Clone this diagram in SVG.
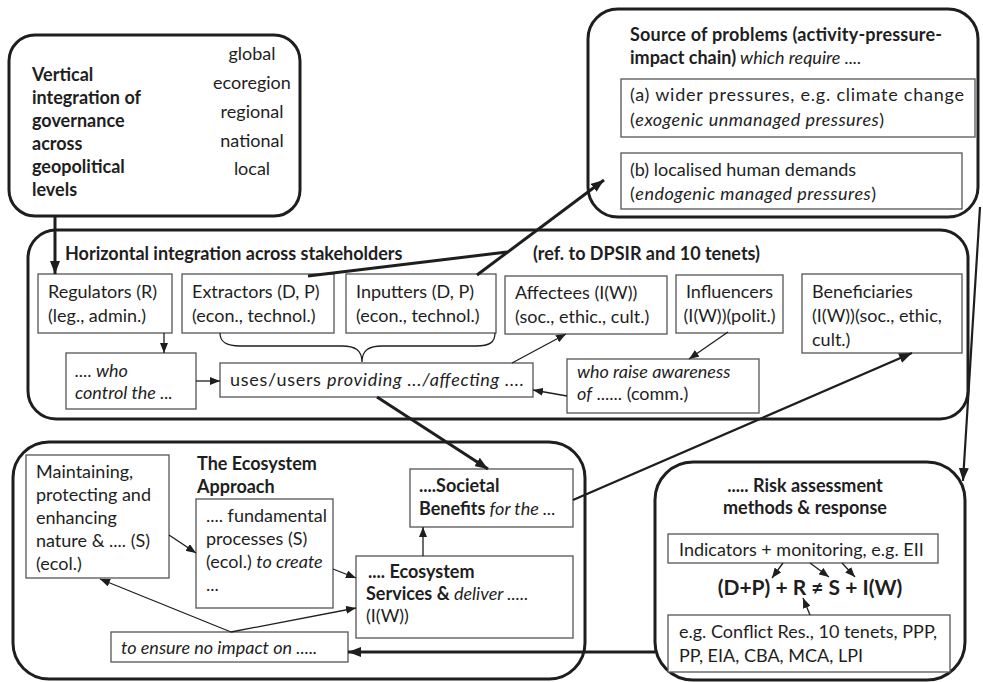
<svg xmlns="http://www.w3.org/2000/svg" width="983" height="682" viewBox="0 0 983 682">
  <defs>
    <style>
      .t { font-family: Lato, "Open Sans", "Liberation Sans", sans-serif; font-size: 18px; fill: #1e1e1e; }
      .b { font-weight: bold; }
      .i { font-style: italic; }
      .mid { text-anchor: middle; }
      .grp { fill: #ffffff; stroke: #1e1e1e; stroke-width: 3; }
      .box { fill: #ffffff; stroke: #555555; stroke-width: 1.3; }
      .thin { fill: none; stroke: #1e1e1e; stroke-width: 1.3; marker-end: url(#arrS); }
      .thick { fill: none; stroke: #1e1e1e; stroke-width: 3; }
      .thickA { fill: none; stroke: #1e1e1e; stroke-width: 3; marker-end: url(#arrL); }
      .medA { fill: none; stroke: #1e1e1e; stroke-width: 2.2; marker-end: url(#arrL); }
    </style>
    <marker id="arrS" markerUnits="userSpaceOnUse" markerWidth="10" markerHeight="8" refX="10" refY="4" orient="auto">
      <path d="M0,0 L10,4 L0,8 Z" fill="#1e1e1e"/>
    </marker>
    <marker id="arrL" markerUnits="userSpaceOnUse" markerWidth="13" markerHeight="10" refX="13" refY="5" orient="auto">
      <path d="M0,0 L13,5 L0,10 Z" fill="#1e1e1e"/>
    </marker>
  </defs>

  <rect width="983" height="682" fill="#ffffff"/>

  <!-- Vertical integration panel -->
  <g id="vertical-integration">
    <rect class="grp" x="9" y="35" width="291" height="181" rx="26"/>
    <text class="t b" x="32" y="81">Vertical</text>
    <text class="t b" x="32" y="104">integration of</text>
    <text class="t b" x="32" y="127">governance</text>
    <text class="t b" x="32" y="150">across</text>
    <text class="t b" x="32" y="173">geopolitical</text>
    <text class="t b" x="32" y="196">levels</text>
    <text class="t mid" x="252" y="60">global</text>
    <text class="t mid" x="252" y="89">ecoregion</text>
    <text class="t mid" x="252" y="118">regional</text>
    <text class="t mid" x="252" y="147">national</text>
    <text class="t mid" x="252" y="175">local</text>
  </g>

  <!-- Source of problems panel -->
  <g id="source-of-problems">
    <rect class="grp" x="588" y="9" width="390" height="208" rx="30"/>
    <text class="t b" x="630" y="41" textLength="312" lengthAdjust="spacing">Source of problems (activity-pressure-</text>
    <text class="t" x="630" y="64"><tspan class="b">impact chain)</tspan><tspan class="i"> which require ....</tspan></text>
  </g>
  <g id="wider-pressures">
    <rect class="box" x="621" y="79" width="354" height="58"/>
    <text class="t" x="630" y="101" textLength="334" lengthAdjust="spacing">(a) wider pressures, e.g. climate change</text>
    <text class="t" x="630" y="126" textLength="254" lengthAdjust="spacing">(<tspan class="i">exogenic unmanaged pressures</tspan>)</text>
  </g>
  <g id="localised-demands">
    <rect class="box" x="621" y="153" width="341" height="56"/>
    <text class="t" x="630" y="176">(b) localised human demands</text>
    <text class="t" x="630" y="200" textLength="246" lengthAdjust="spacing">(<tspan class="i">endogenic managed pressures</tspan>)</text>
  </g>

  <!-- Horizontal integration panel -->
  <g id="horizontal-integration">
    <rect class="grp" x="28" y="230" width="940" height="189" rx="28"/>
    <text class="t b" x="65" y="260">Horizontal integration across stakeholders</text>
    <text class="t b" x="533" y="260">(ref. to DPSIR and 10 tenets)</text>
  </g>
  <g id="regulators">
    <rect class="box" x="38" y="274" width="134" height="59"/>
    <text class="t" x="48" y="298">Regulators (R)</text>
    <text class="t" x="48" y="322">(leg., admin.)</text>
  </g>
  <g id="extractors">
    <rect class="box" x="182" y="274" width="152" height="59"/>
    <text class="t" x="192" y="298">Extractors (D, P)</text>
    <text class="t" x="192" y="322">(econ., technol.)</text>
  </g>
  <g id="inputters">
    <rect class="box" x="346" y="274" width="150" height="59"/>
    <text class="t" x="356" y="298">Inputters (D, P)</text>
    <text class="t" x="356" y="322">(econ., technol.)</text>
  </g>
  <g id="affectees">
    <rect class="box" x="505" y="276" width="162" height="58"/>
    <text class="t" x="515" y="299">Affectees (I(W))</text>
    <text class="t" x="515" y="323">(soc., ethic., cult.)</text>
  </g>
  <g id="influencers">
    <rect class="box" x="676" y="275" width="107" height="58"/>
    <text class="t mid" x="729.5" y="298">Influencers</text>
    <text class="t mid" x="729.5" y="322">(I(W))(polit.)</text>
  </g>
  <g id="beneficiaries">
    <rect class="box" x="802" y="274" width="160" height="79"/>
    <text class="t" x="812" y="298">Beneficiaries</text>
    <text class="t" x="812" y="322">(I(W))(soc., ethic,</text>
    <text class="t" x="812" y="346">cult.)</text>
  </g>
  <g id="who-control">
    <rect class="box" x="66" y="353" width="130" height="56"/>
    <text class="t i" x="75" y="377">.... who</text>
    <text class="t i" x="75" y="399">control the ...</text>
  </g>
  <g id="uses-users">
    <rect class="box" x="220" y="363" width="313" height="34"/>
    <text class="t" x="230" y="386" textLength="294" lengthAdjust="spacing">uses/users <tspan class="i">providing .../affecting ....</tspan></text>
  </g>
  <g id="who-raise">
    <rect class="box" x="567" y="359" width="192" height="54"/>
    <text class="t i" x="577" y="378">who raise awareness</text>
    <text class="t" x="577" y="400"><tspan class="i">of</tspan> ...... (comm.)</text>
  </g>

  <!-- Ecosystem approach panel -->
  <g id="ecosystem-approach">
    <rect class="grp" x="13" y="442" width="572" height="237" rx="36"/>
    <text class="t b" x="197" y="470">The Ecosystem</text>
    <text class="t b" x="197" y="493">Approach</text>
  </g>
  <g id="maintaining">
    <rect class="box" x="26" y="455" width="143" height="123"/>
    <text class="t" x="36" y="478">Maintaining,</text>
    <text class="t" x="36" y="501">protecting and</text>
    <text class="t" x="36" y="524">enhancing</text>
    <text class="t" x="36" y="547">nature &amp; .... (S)</text>
    <text class="t" x="36" y="570">(ecol.)</text>
  </g>
  <g id="fundamental-processes">
    <rect class="box" x="196" y="499" width="137" height="109"/>
    <text class="t" x="206" y="522">.... fundamental</text>
    <text class="t" x="206" y="545">processes (S)</text>
    <text class="t" x="206" y="568">(ecol.) <tspan class="i">to create</tspan></text>
    <text class="t" x="206" y="591">...</text>
  </g>
  <g id="societal-benefits">
    <rect class="box" x="410" y="469" width="163" height="58"/>
    <text class="t b" x="419" y="492">....Societal</text>
    <text class="t" x="419" y="515"><tspan class="b">Benefits</tspan><tspan class="i"> for the ...</tspan></text>
  </g>
  <g id="ecosystem-services">
    <rect class="box" x="356" y="556" width="217" height="82"/>
    <text class="t b" x="368" y="578">.... Ecosystem</text>
    <text class="t" x="366" y="600"><tspan class="b">Services &amp;</tspan><tspan class="i"> deliver .....</tspan></text>
    <text class="t" x="366" y="622">(I(W))</text>
  </g>
  <g id="ensure-no-impact">
    <rect class="box" x="111" y="632" width="237" height="30"/>
    <text class="t i" x="121" y="654">to ensure no impact on .....</text>
  </g>

  <!-- Risk assessment panel -->
  <g id="risk-assessment">
    <rect class="grp" x="655" y="462" width="310" height="218" rx="38"/>
    <text class="t b mid" x="805" y="492">..... Risk assessment</text>
    <text class="t b mid" x="805" y="514">methods &amp; response</text>
    <text class="t b mid" x="810" y="595" style="font-size:21px">(D+P) + R ≠ S + I(W)</text>
  </g>
  <g id="indicators">
    <rect class="box" x="668" y="534" width="270" height="29"/>
    <text class="t" x="679" y="556">Indicators + monitoring, e.g. EII</text>
  </g>
  <g id="response-methods">
    <rect class="box" x="668" y="615" width="282" height="57"/>
    <text class="t" x="679" y="638">e.g. Conflict Res., 10 tenets, PPP,</text>
    <text class="t" x="679" y="662">PP, EIA, CBA, MCA, LPI</text>
  </g>

  <!-- Connectors -->
  <g id="connectors">
    <line class="thickA" x1="55" y1="216" x2="55" y2="274"/>
    <line class="thick" x1="308" y1="276" x2="507" y2="252"/>
    <line class="thickA" x1="477" y1="275" x2="604" y2="180"/>
    <path fill="none" stroke="#1e1e1e" stroke-width="1.3" d="M220,333 C220,342 226,346 240,346 L342,346 C355,346 362,350 362,362 C362,350 369,346 382,346 L476,346 C490,346 495,342 495,333"/>
    <line class="thin" x1="164" y1="333" x2="164" y2="353"/>
    <line class="thin" x1="196" y1="381" x2="220" y2="381"/>
    <line class="thin" x1="512" y1="363" x2="566" y2="334"/>
    <line class="thin" x1="728" y1="332" x2="689" y2="359"/>
    <line class="thin" x1="567" y1="396" x2="533" y2="390"/>
    <line class="thickA" x1="377" y1="397" x2="488" y2="469"/>
    <line class="medA" x1="573" y1="500" x2="912" y2="353"/>
    <line class="medA" x1="980" y1="207" x2="963" y2="481"/>
    <line class="thin" x1="169" y1="535" x2="196" y2="553"/>
    <line class="thin" x1="333" y1="569" x2="356" y2="578"/>
    <line class="thin" x1="423" y1="556" x2="423" y2="527"/>
    <line class="thin" x1="231" y1="632" x2="100" y2="579"/>
    <line class="thin" x1="231" y1="632" x2="356" y2="608"/>
    <line class="thickA" x1="655" y1="652" x2="348" y2="652"/>
    <line class="thin" x1="783" y1="563" x2="772" y2="578"/>
    <line class="thin" x1="810" y1="563" x2="829" y2="577"/>
    <line class="thin" x1="842" y1="563" x2="855" y2="577"/>
    <line class="thin" x1="810" y1="615" x2="803" y2="598"/>
  </g>
</svg>
